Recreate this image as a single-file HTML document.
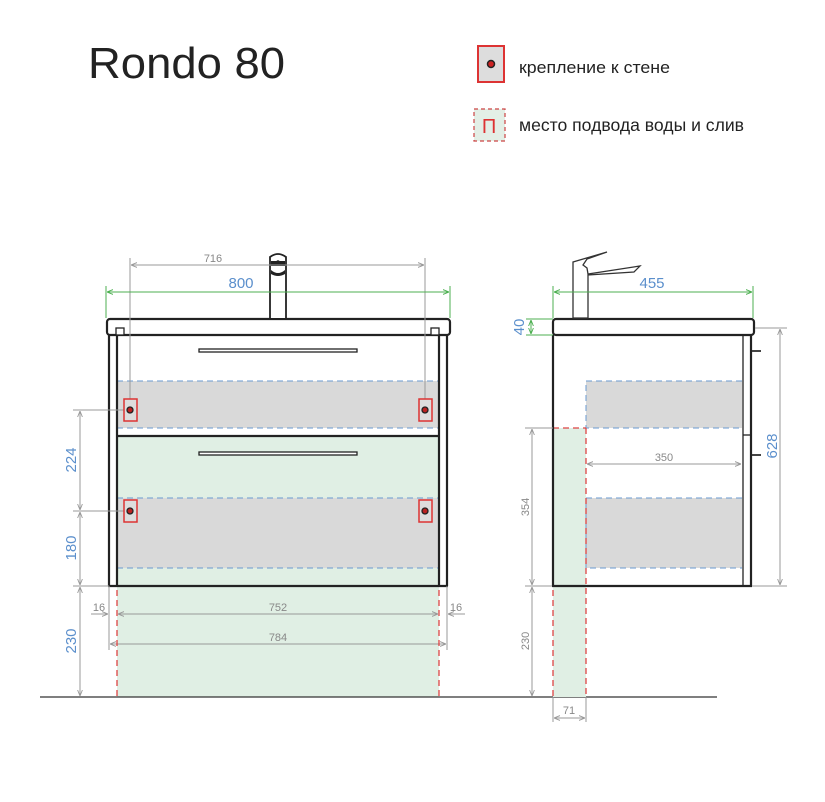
<!DOCTYPE html>
<html><head><meta charset="utf-8"><style>html,body{margin:0;padding:0;background:#fff}svg{display:block}</style></head>
<body>
<svg width="825" height="802" viewBox="0 0 825 802" xmlns="http://www.w3.org/2000/svg" font-family="Liberation Sans, DejaVu Sans, sans-serif">
<defs>
<marker id="ag" viewBox="0 0 10 10" refX="10" refY="5" markerWidth="6" markerHeight="6" orient="auto-start-reverse"><path d="M0,1 L10,5 L0,9" fill="none" stroke="#4caf50" stroke-width="1.5"/></marker>
<marker id="ar" viewBox="0 0 10 10" refX="10" refY="5" markerWidth="6" markerHeight="6" orient="auto-start-reverse"><path d="M0,1 L10,5 L0,9" fill="none" stroke="#999" stroke-width="1.5"/></marker>
</defs>
<text x="88" y="78" font-size="44" fill="#222" textLength="197" lengthAdjust="spacingAndGlyphs">Rondo 80</text>
<rect x="478" y="46" width="26" height="36" fill="#ddd" stroke="#d33" stroke-width="2"/>
<circle cx="491" cy="64" r="3.5" fill="#c22" stroke="#222" stroke-width="1.5"/>
<text x="519" y="73" font-size="17" fill="#222" textLength="151" lengthAdjust="spacingAndGlyphs">крепление к стене</text>
<rect x="474" y="109" width="31" height="32" fill="#e3efe6" stroke="#c44" stroke-width="1.2" stroke-dasharray="4,3"/>
<text x="489" y="133" font-size="20" fill="#d33" text-anchor="middle">П</text>
<text x="519" y="131" font-size="17.5" fill="#222" textLength="225" lengthAdjust="spacingAndGlyphs">место подвода воды и слив</text>

<!-- front view -->
<rect x="117" y="437" width="322" height="149" fill="#e0efe4"/>
<rect x="117" y="586" width="322" height="111" fill="#e0efe4"/>
<rect x="117" y="381" width="322" height="47" fill="#d9d9d9"/>
<rect x="117" y="498" width="322" height="70" fill="#d9d9d9"/>
<g stroke="#6a9ad0" stroke-width="1" stroke-dasharray="6,4">
<line x1="117" y1="381" x2="439" y2="381"/><line x1="117" y1="428" x2="439" y2="428"/>
<line x1="117" y1="498" x2="439" y2="498"/><line x1="117" y1="568" x2="439" y2="568"/>
</g>
<g stroke="#222" fill="none" stroke-width="2.2">
<rect x="107" y="319" width="343" height="16" rx="3"/>
<line x1="109" y1="335" x2="109" y2="586"/><line x1="447" y1="335" x2="447" y2="586"/>
<line x1="117" y1="335" x2="117" y2="586"/><line x1="439" y1="335" x2="439" y2="586"/>
<line x1="108" y1="586" x2="448" y2="586"/>
<line x1="117" y1="436" x2="439" y2="436"/>
</g>
<g stroke="#222" fill="#fff" stroke-width="1.3">
<rect x="116" y="328" width="8" height="7"/><rect x="431" y="328" width="8" height="7"/>
<rect x="199" y="349" width="158" height="3"/><rect x="199" y="452" width="158" height="3"/>
</g>
<path d="M270,318 L270,257 Q278,251 286,257 L286,318" fill="#fff" stroke="#222" stroke-width="1.8"/>
<path d="M271,261 L285,261 L285,266 L271,266Z M271,270 Q278,276 285,270 L285,274 Q278,278 271,274Z" fill="#222"/>
<circle cx="278" cy="262" r="1.8" fill="#222"/>
<g stroke="#999" stroke-width="1" fill="none">
<line x1="130" y1="258" x2="130" y2="404"/><line x1="425" y1="258" x2="425" y2="404"/>
<line x1="131" y1="265" x2="424" y2="265" marker-start="url(#ar)" marker-end="url(#ar)"/>
<line x1="73" y1="410" x2="128" y2="410"/><line x1="73" y1="511" x2="128" y2="511"/><line x1="73" y1="586" x2="109" y2="586"/>
<line x1="80" y1="411" x2="80" y2="510" marker-start="url(#ar)" marker-end="url(#ar)"/>
<line x1="80" y1="512" x2="80" y2="585" marker-start="url(#ar)" marker-end="url(#ar)"/>
<line x1="80" y1="587" x2="80" y2="696" marker-start="url(#ar)" marker-end="url(#ar)"/>
<line x1="109" y1="586" x2="109" y2="650"/><line x1="447" y1="586" x2="447" y2="650"/>
<line x1="118" y1="614" x2="438" y2="614" marker-start="url(#ar)" marker-end="url(#ar)"/>
<line x1="91" y1="614" x2="108" y2="614" marker-end="url(#ar)"/>
<line x1="465" y1="614" x2="448" y2="614" marker-end="url(#ar)"/>
<line x1="110" y1="644" x2="446" y2="644" marker-start="url(#ar)" marker-end="url(#ar)"/>
</g>
<line x1="106" y1="286" x2="106" y2="318" stroke="#4caf50"/><line x1="450" y1="286" x2="450" y2="318" stroke="#4caf50"/>
<line x1="107" y1="292" x2="449" y2="292" stroke="#4caf50" marker-start="url(#ag)" marker-end="url(#ag)"/>
<g fill="#ddd" stroke="#d33" stroke-width="1.5">
<rect x="124" y="399" width="13" height="22"/><rect x="419" y="399" width="13" height="22"/>
<rect x="124" y="500" width="13" height="22"/><rect x="419" y="500" width="13" height="22"/>
</g>
<g fill="#b22" stroke="#222" stroke-width="1.3">
<circle cx="130" cy="410" r="3"/><circle cx="425" cy="410" r="3"/><circle cx="130" cy="511" r="3"/><circle cx="425" cy="511" r="3"/>
</g>
<g stroke="#d44" stroke-width="1.3" stroke-dasharray="6,4">
<line x1="117" y1="590" x2="117" y2="697"/><line x1="439" y1="590" x2="439" y2="697"/>
</g>
<g font-size="11" fill="#888" text-anchor="middle">
<text x="213" y="262">716</text><text x="278" y="611">752</text><text x="278" y="641">784</text>
<text x="99" y="611">16</text><text x="456" y="611">16</text>
</g>
<text x="241" y="288" font-size="15" fill="#5b8fcc" text-anchor="middle">800</text>
<g font-size="15" fill="#5b8fcc" text-anchor="middle">
<text transform="translate(76,460) rotate(-90)">224</text>
<text transform="translate(76,548) rotate(-90)">180</text>
<text transform="translate(76,641) rotate(-90)">230</text>
</g>
<line x1="40" y1="697" x2="717" y2="697" stroke="#333" stroke-width="1.3"/>

<!-- side view -->
<rect x="553" y="428" width="33" height="269" fill="#e0efe4"/>
<rect x="586" y="381" width="156" height="47" fill="#d9d9d9"/>
<rect x="586" y="498" width="156" height="70" fill="#d9d9d9"/>
<g stroke="#6a9ad0" stroke-width="1" stroke-dasharray="6,4" fill="none">
<path d="M742,381 L586,381 L586,428 L742,428"/><path d="M742,498 L586,498 L586,568 L742,568"/>
</g>
<g stroke="#d44" stroke-width="1.3" stroke-dasharray="6,4">
<line x1="553" y1="428" x2="586" y2="428"/><line x1="586" y1="428" x2="586" y2="697"/><line x1="553" y1="590" x2="553" y2="697"/>
</g>
<g stroke="#222" fill="none" stroke-width="2.2">
<rect x="553" y="319" width="201" height="16" rx="3"/>
<line x1="553" y1="335" x2="553" y2="586"/><line x1="751" y1="335" x2="751" y2="586"/>
<line x1="552" y1="586" x2="752" y2="586"/>
<line x1="743" y1="336" x2="743" y2="586" stroke-width="1.3"/>
<line x1="743" y1="435" x2="751" y2="435" stroke-width="1.3"/>
</g>
<g stroke="#444" stroke-width="2"><line x1="752" y1="351" x2="761" y2="351"/><line x1="752" y1="455" x2="761" y2="455"/></g>
<path d="M573,318 L573,262 L607,252 L587,259 L583,265 L587,268 L588,274 L640,266 L634,272 L588,275 L588,318Z" fill="#fff" stroke="#333" stroke-width="1.3"/>
<line x1="553" y1="286" x2="553" y2="318" stroke="#4caf50"/><line x1="753" y1="286" x2="753" y2="318" stroke="#4caf50"/>
<line x1="554" y1="292" x2="752" y2="292" stroke="#4caf50" marker-start="url(#ag)" marker-end="url(#ag)"/>
<line x1="526" y1="319" x2="553" y2="319" stroke="#4caf50"/><line x1="526" y1="335" x2="553" y2="335" stroke="#4caf50"/>
<line x1="531" y1="320" x2="531" y2="334" stroke="#4caf50" marker-start="url(#ag)" marker-end="url(#ag)"/>
<g stroke="#999" stroke-width="1" fill="none">
<line x1="755" y1="328" x2="787" y2="328"/><line x1="752" y1="586" x2="787" y2="586"/>
<line x1="780" y1="329" x2="780" y2="585" marker-start="url(#ar)" marker-end="url(#ar)"/>
<line x1="587" y1="464" x2="741" y2="464" marker-start="url(#ar)" marker-end="url(#ar)"/>
<line x1="525" y1="428" x2="553" y2="428"/><line x1="525" y1="586" x2="552" y2="586"/>
<line x1="532" y1="429" x2="532" y2="585" marker-start="url(#ar)" marker-end="url(#ar)"/>
<line x1="532" y1="587" x2="532" y2="696" marker-start="url(#ar)" marker-end="url(#ar)"/>
<line x1="553" y1="697" x2="553" y2="722"/><line x1="586" y1="697" x2="586" y2="722"/>
<line x1="554" y1="718" x2="585" y2="718" marker-start="url(#ar)" marker-end="url(#ar)"/>
</g>
<g font-size="11" fill="#888" text-anchor="middle">
<text x="664" y="461">350</text><text x="569" y="714">71</text>
<text transform="translate(529,507) rotate(-90)">354</text>
<text transform="translate(529,641) rotate(-90)">230</text>
</g>
<g font-size="15" fill="#5b8fcc" text-anchor="middle">
<text x="652" y="288">455</text>
<text transform="translate(524,327) rotate(-90)">40</text>
<text transform="translate(777,446) rotate(-90)">628</text>
</g>
</svg>
</body></html>
